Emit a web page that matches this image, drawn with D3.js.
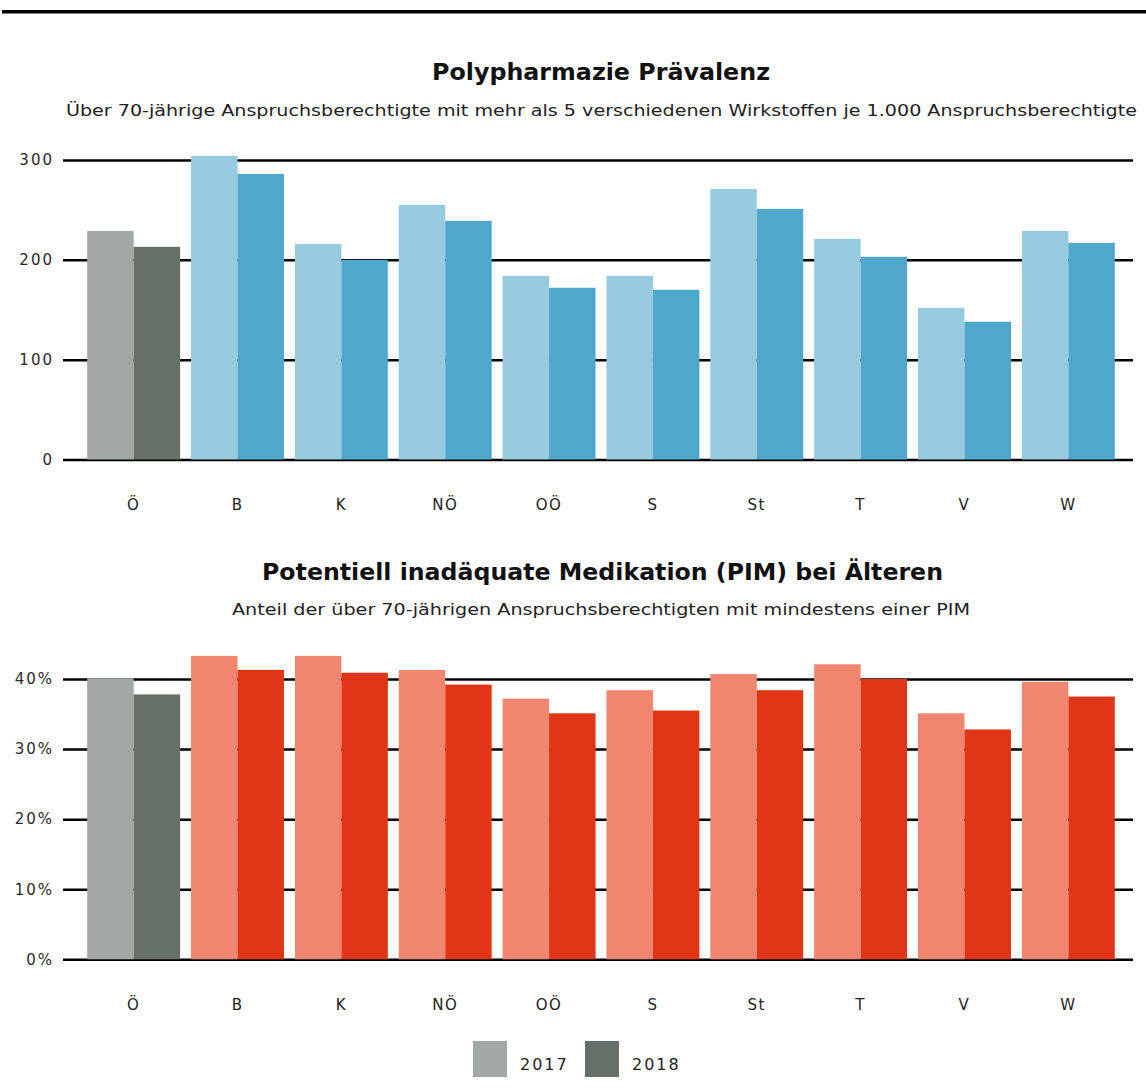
<!DOCTYPE html>
<html>
<head>
<meta charset="utf-8">
<script src="https://cdn.jsdelivr.net/npm/d3@7"></script>
<style>
  html, body { margin: 0; padding: 0; background: #fff; }
  svg { display: block; }
  text { font-family: "DejaVu Sans", Verdana, sans-serif; }
</style>
</head>
<body>
<svg id="chart" width="1146" height="1089"></svg>
<script>
// Regions (Austria total first, then federal states)
const regions = ["Ö", "B", "K", "NÖ", "OÖ", "S", "St", "T", "V", "W"];
const years = ["2017", "2018"];

// Polypharmacy: persons >70 with more than 5 active substances per 1,000
const poly2017 = [229, 304, 216, 255, 184, 184, 271, 221, 152, 229];
const poly2018 = [213, 286, 200, 239, 172, 170, 251, 203, 138, 217];
const polyTicks = [0, 100, 200, 300];

// Share of >70 with at least one potentially inadequate medication
const pim2017 = [0.401, 0.433, 0.433, 0.413, 0.372, 0.384, 0.407, 0.421, 0.351, 0.396];
const pim2018 = [0.378, 0.413, 0.409, 0.392, 0.351, 0.355, 0.384, 0.400, 0.328, 0.375];
const pimTicks = [0, 0.1, 0.2, 0.3, 0.4];

const titles = ["Polypharmazie Prävalenz", "Potentiell inadäquate Medikation (PIM) bei Älteren"];
const subtitles = [
  "Über 70-jährige Anspruchsberechtigte mit mehr als 5 verschiedenen Wirkstoffen je 1.000 Anspruchsberechtigte",
  "Anteil der über 70-jährigen Anspruchsberechtigten mit mindestens einer PIM"
];

const grayColors = ["#a2a8a3", "#667068"];
const blueColors = ["#96cade", "#4fa8cc"];
const redColors = ["#f08570", "#e03617"];

const svg = d3.select("#chart");

// heavy rule across the top of the page
svg.append("rect").attr("x", 2).attr("y", 10).attr("width", 1144).attr("height", 3.5).attr("fill", "#000");

const x0 = d3.scaleBand().domain(regions).range([82, 1120]).paddingInner(0.105).paddingOuter(0.05);
const x1 = d3.scaleBand().domain(years).range([0, x0.bandwidth()]);

function panel(cfg) {
  const g = svg.append("g");
  const y = d3.scaleLinear().domain(cfg.domain).range(cfg.range);

  g.append("text")
    .attr("x", cfg.titleX).attr("y", cfg.titleY)
    .attr("textLength", cfg.titleLen).attr("lengthAdjust", "spacingAndGlyphs")
    .attr("font-size", 23).attr("font-weight", "bold").attr("fill", "#111")
    .text(cfg.title);
  g.append("text")
    .attr("x", cfg.subX).attr("y", cfg.subY)
    .attr("textLength", cfg.subLen).attr("lengthAdjust", "spacingAndGlyphs")
    .attr("font-size", 15).attr("fill", "#222")
    .text(cfg.subtitle);

  // gridlines with the value axis
  const axis = d3.axisLeft(y).tickValues(cfg.ticks).tickFormat(cfg.fmt)
    .tickSize(-(1133 - 63)).tickPadding(11);
  const ax = g.append("g").attr("transform", "translate(63,0)").call(axis);
  ax.select(".domain").remove();
  ax.selectAll(".tick line").attr("stroke", "#000").attr("stroke-width", 2.5);
  ax.selectAll(".tick text").attr("font-size", 15).attr("fill", "#2a2a2a")
    .attr("letter-spacing", "2px").attr("x", -9);

  // bars
  const groups = g.selectAll("g.grp").data(regions).join("g")
    .attr("class", "grp")
    .attr("transform", d => `translate(${x0(d)},0)`);
  groups.selectAll("rect").data((d, i) => years.map((yr, k) => ({
      yr, k, v: k === 0 ? cfg.a[i] : cfg.b[i], total: i === 0
    })))
    .join("rect")
    .attr("x", d => x1(d.yr))
    .attr("width", x1.bandwidth())
    .attr("y", d => y(d.v))
    .attr("height", d => y(0) - y(d.v))
    .attr("fill", d => (d.total ? grayColors : cfg.colors)[d.k]);

  // category labels
  const bx = d3.axisBottom(x0).tickSize(0).tickPadding(0);
  const bxg = g.append("g").attr("transform", `translate(0,${cfg.labelY})`).call(bx);
  bxg.select(".domain").remove();
  bxg.selectAll(".tick text").attr("font-size", 15).attr("fill", "#222")
    .attr("letter-spacing", "1.5px").attr("dy", 0);
}

panel({
  title: titles[0], subtitle: subtitles[0],
  titleX: 432, titleY: 80, titleLen: 338,
  subX: 66, subY: 116, subLen: 1071,
  domain: [0, 300], range: [459.5, 160],
  ticks: polyTicks, fmt: d3.format("d"),
  a: poly2017, b: poly2018, colors: blueColors,
  labelY: 510
});

panel({
  title: titles[1], subtitle: subtitles[1],
  titleX: 262, titleY: 580, titleLen: 681,
  subX: 232, subY: 615, subLen: 738,
  domain: [0, 0.4], range: [959.3, 679],
  ticks: pimTicks, fmt: d3.format(".0%"),
  a: pim2017, b: pim2018, colors: redColors,
  labelY: 1010
});

// legend
const legend = svg.append("g");
const legX = d3.scaleOrdinal().domain(years).range([473, 585]);
legend.selectAll("rect").data(years).join("rect")
  .attr("x", d => legX(d)).attr("y", 1041).attr("width", 34).attr("height", 36)
  .attr("fill", (d, i) => grayColors[i]);
legend.selectAll("text").data(years).join("text")
  .attr("x", d => legX(d) + 47).attr("y", 1070)
  .attr("font-size", 16).attr("letter-spacing", "2px").attr("fill", "#222")
  .text(d => d);
</script>
</body>
</html>
